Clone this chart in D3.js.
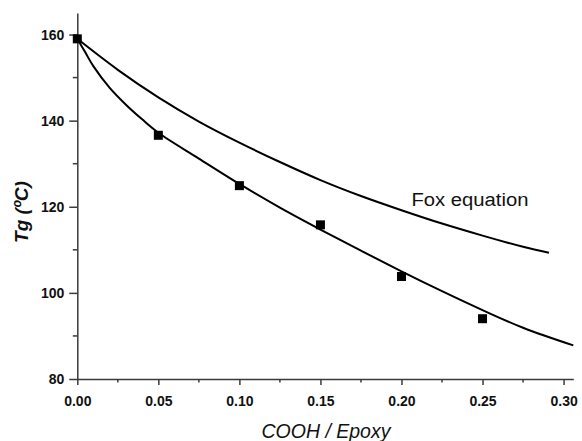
<!DOCTYPE html>
<html><head><meta charset="utf-8">
<script src="https://cdn.jsdelivr.net/npm/d3@7"></script>
<style>body{margin:0;background:#fff}svg{display:block}</style>
</head><body>
<svg id="c" width="582" height="441"></svg>
<script>
// Experimental data
const ratio = [0, 0.05, 0.10, 0.15, 0.20, 0.25];
const tgMeasured = [159, 136.6, 124.9, 115.8, 103.8, 94.0];
// Fitted curve
const fitX = [0, 0.005, 0.01, 0.02, 0.03, 0.04, 0.05, 0.075, 0.10, 0.125, 0.15, 0.175, 0.20, 0.225, 0.25, 0.275, 0.306];
const fitY = [159, 155.8, 152.6, 147.6, 143.7, 140.3, 137.2, 131.2, 125.3, 119.8, 114.7, 109.8, 105.0, 100.4, 96.0, 91.9, 87.8];
// Fox equation curve
const foxX = [0, 0.025, 0.05, 0.075, 0.10, 0.125, 0.15, 0.175, 0.20, 0.225, 0.25, 0.275, 0.291];
const foxY = [159, 151.8, 145.4, 139.8, 134.9, 130.4, 126.2, 122.5, 119.2, 116.1, 113.3, 110.7, 109.3];
const xTicks = [0, 0.05, 0.10, 0.15, 0.20, 0.25, 0.30];
const yTicks = [80, 100, 120, 140, 160];

const svg = d3.select('#c');
const L = 77.3, R = 573.3, T = 13, B = 379;
const x = d3.scaleLinear().domain([0, 0.306]).range([L, R]);
const y = d3.scaleLinear().domain([80, 165]).range([B, T]);
const axisColor = '#3a3a3a';

// minor ticks
const xMinor = d3.range(0.025, 0.306, 0.05);
const yMinor = d3.range(90, 165, 20);
const g = svg.append('g');
g.selectAll('.xm').data(xMinor).enter().append('line')
  .attr('x1', d => x(d)).attr('x2', d => x(d)).attr('y1', B).attr('y2', B + 3.5)
  .attr('stroke', axisColor).attr('stroke-width', 1.5);
g.selectAll('.ym').data(yMinor).enter().append('line')
  .attr('y1', d => y(d)).attr('y2', d => y(d)).attr('x1', L).attr('x2', L - 4.5)
  .attr('stroke', axisColor).attr('stroke-width', 1.5);

const xAxis = d3.axisBottom(x).tickValues(xTicks).tickFormat(d3.format('.2f')).tickSize(6).tickSizeOuter(0).tickPadding(11);
const yAxis = d3.axisLeft(y).tickValues(yTicks).tickFormat(d3.format('d')).tickSize(8).tickSizeOuter(0).tickPadding(5);
const gx = svg.append('g').attr('transform', `translate(0,${B})`).call(xAxis);
const gy = svg.append('g').attr('transform', `translate(${L},0)`).call(yAxis);
[gx, gy].forEach(a => {
  a.select('.domain').attr('stroke', axisColor).attr('stroke-width', 1.5);
  a.selectAll('.tick line').attr('stroke', axisColor).attr('stroke-width', 1.5);
  a.selectAll('.tick text').attr('fill', '#111').attr('font-family', 'Liberation Sans, Arial, sans-serif')
    .attr('font-size', 14).attr('font-weight', 'bold');
});

const line = d3.line().x(d => x(d[0])).y(d => y(d[1])).curve(d3.curveCatmullRom.alpha(0.5));
svg.append('path').attr('d', line(fitX.map((v, i) => [v, fitY[i]])))
  .attr('fill', 'none').attr('stroke', '#000').attr('stroke-width', 2);
svg.append('path').attr('d', line(foxX.map((v, i) => [v, foxY[i]])))
  .attr('fill', 'none').attr('stroke', '#000').attr('stroke-width', 2);

const s = 9;
svg.selectAll('.pt').data(ratio).enter().append('rect')
  .attr('x', (d) => x(d) - s / 2).attr('y', (d, i) => y(tgMeasured[i]) - s / 2)
  .attr('width', s).attr('height', s).attr('fill', '#000');

svg.append('text').attr('x', 411.5).attr('y', 206).text('Fox equation')
  .attr('font-family', 'Liberation Sans, Arial, sans-serif').attr('font-size', 18)
  .attr('textLength', 117).attr('lengthAdjust', 'spacingAndGlyphs').attr('fill', '#111');

svg.append('text').attr('x', 326).attr('y', 438).attr('text-anchor', 'middle').text('COOH / Epoxy')
  .attr('font-family', 'Liberation Sans, Arial, sans-serif').attr('font-size', 19.5)
  .attr('font-style', 'italic').attr('fill', '#111');

svg.append('text').attr('transform', 'translate(27.5,212) rotate(-90)').attr('text-anchor', 'middle').text('Tg (ºC)')
  .attr('font-family', 'Liberation Sans, Arial, sans-serif').attr('font-size', 19)
  .attr('font-style', 'italic').attr('font-weight', 'bold').attr('fill', '#111');
</script>
</body></html>
